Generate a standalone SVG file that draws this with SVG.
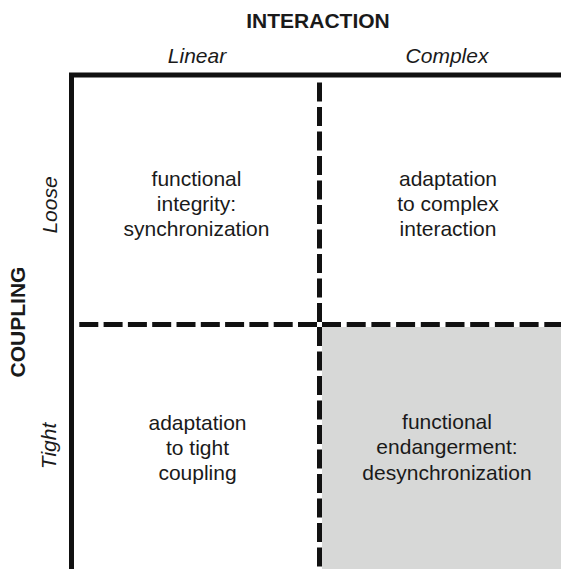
<svg xmlns="http://www.w3.org/2000/svg" width="561" height="569" viewBox="0 0 561 569">
  <style>
    text { font-family: "Liberation Sans", Arial, sans-serif; fill: #1a1a1a; text-anchor: middle; }
    .head { font-size: 21px; font-weight: bold; }
    .axis { font-size: 21px; font-style: italic; }
    .cell { font-size: 21px; }
    .frame { stroke: #111; stroke-width: 5; fill: none; }
    .dash { stroke: #111; stroke-width: 5; fill: none; }
  </style>

  <!-- shaded quadrant: tight coupling / complex interaction -->
  <rect x="322" y="327" width="239" height="242" fill="#d7d8d7"/>

  <!-- axis titles -->
  <g id="axis-labels">
    <text class="head" x="318" y="28">INTERACTION</text>
    <text class="axis" x="197" y="63">Linear</text>
    <text class="axis" x="447" y="63">Complex</text>
    <text class="head" transform="translate(25 322) rotate(-90)">COUPLING</text>
    <text class="axis" transform="translate(57 205) rotate(-90)">Loose</text>
    <text class="axis" transform="translate(56 446) rotate(-90)">Tight</text>
  </g>

  <!-- frame and dashed dividers -->
  <g id="connectors">
    <path class="frame" d="M71.5 569 V75 H561"/>
    <path class="dash" d="M319.5 322 V82.5" stroke-dasharray="19 5.5"/>
    <path class="dash" d="M319.5 327 V569" stroke-dasharray="19 5.5"/>
    <path class="dash" d="M317 324.5 H79" stroke-dasharray="19 5.3"/>
    <path class="dash" d="M322 324.5 H561" stroke-dasharray="19 5.7"/>
  </g>

  <g id="cell-linear-loose">
    <text class="cell" x="196.5" y="186">functional</text>
    <text class="cell" x="196.5" y="211">integrity:</text>
    <text class="cell" x="196.5" y="236">synchronization</text>
  </g>

  <g id="cell-complex-loose">
    <text class="cell" x="448" y="186">adaptation</text>
    <text class="cell" x="448" y="211">to complex</text>
    <text class="cell" x="448" y="236">interaction</text>
  </g>

  <g id="cell-linear-tight">
    <text class="cell" x="197.5" y="430">adaptation</text>
    <text class="cell" x="197.5" y="455">to tight</text>
    <text class="cell" x="197.5" y="480">coupling</text>
  </g>

  <g id="cell-complex-tight">
    <text class="cell" x="447" y="429">functional</text>
    <text class="cell" x="447" y="454">endangerment:</text>
    <text class="cell" x="447" y="480">desynchronization</text>
  </g>
</svg>
